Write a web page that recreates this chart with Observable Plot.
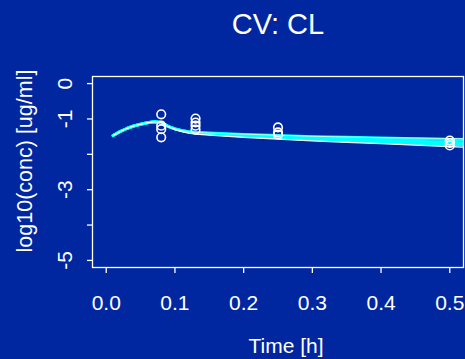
<!DOCTYPE html>
<html>
<head>
<meta charset="utf-8">
<script src="https://cdn.jsdelivr.net/npm/d3@7"></script>
<script src="https://cdn.jsdelivr.net/npm/@observablehq/plot@0.6"></script>
<style>
  html, body { margin: 0; padding: 0; background: #0027a0; }
  svg { display: block; }
</style>
</head>
<body>
<div id="chart"></div>
<script>
// ---- data ----
const titleText = "CV: CL";
const xLabel = "Time [h]";
const yLabel = "log10(conc) [ug/ml]";
const xTicks = [0, 0.1, 0.2, 0.3, 0.4, 0.5];
const xTickLabels = ["0.0", "0.1", "0.2", "0.3", "0.4", "0.5"];
const yTicks = [0, -1, -2, -3, -4, -5];
const yTickLabels = [0, -1, -3, -5];

const time = [0.01,0.02,0.03,0.04,0.05,0.06,0.07,0.08,0.09,0.10,0.11,0.12,0.13,0.15,0.20,0.25,0.30,0.35,0.40,0.45,0.50,0.52];
const cyanMid  = [-1.47,-1.36,-1.27,-1.20,-1.15,-1.11,-1.08,-1.10,-1.21,-1.28,-1.33,-1.36,-1.38,-1.41,-1.46,-1.50,-1.54,-1.57,-1.60,-1.63,-1.66,-1.67];
const cyanHigh = [-1.47,-1.36,-1.27,-1.20,-1.15,-1.11,-1.08,-1.10,-1.21,-1.28,-1.33,-1.36,-1.38,-1.40,-1.44,-1.47,-1.50,-1.52,-1.54,-1.56,-1.58,-1.59];
const cyanLow  = [-1.47,-1.36,-1.27,-1.20,-1.15,-1.11,-1.08,-1.10,-1.21,-1.28,-1.33,-1.37,-1.39,-1.42,-1.48,-1.53,-1.58,-1.62,-1.66,-1.69,-1.72,-1.73];
const whiteLow = [-1.47,-1.36,-1.27,-1.20,-1.15,-1.11,-1.08,-1.10,-1.22,-1.30,-1.36,-1.40,-1.43,-1.46,-1.52,-1.57,-1.62,-1.66,-1.70,-1.74,-1.78,-1.80];
const whiteHigh= [-1.47,-1.36,-1.27,-1.20,-1.15,-1.11,-1.08,-1.10,-1.21,-1.28,-1.33,-1.36,-1.38,-1.40,-1.43,-1.46,-1.49,-1.51,-1.53,-1.54,-1.55,-1.55];

const obsTime = [0.08,0.08,0.08,0.08, 0.13,0.13,0.13,0.13, 0.25,0.25,0.25, 0.50,0.50,0.50];
const obsConc = [-0.87,-1.19,-1.29,-1.52, -0.99,-1.10,-1.19,-1.30, -1.24,-1.38,-1.44, -1.61,-1.68,-1.75];

// ---- build tables ----
const toRows = (vals, s) => time.map((t, i) => ({time: t, conc: vals[i], series: s}));
const cyanRows = [...toRows(cyanHigh, "a"), ...toRows(cyanMid, "b"), ...toRows(cyanLow, "c")];
const whiteLowRows = toRows(whiteLow, "w1");
const whiteHighRows = toRows(whiteHigh, "w2");
const obs = obsTime.map((t, i) => ({time: t, conc: obsConc[i]}));

const font = "Liberation Sans, Arial, Helvetica, sans-serif";

const chart = Plot.plot({
  width: 465,
  height: 359,
  marginLeft: 92,
  marginRight: 2,
  marginTop: 76,
  marginBottom: 92,
  style: {background: "#0027a0", color: "white", fontFamily: font},
  x: {domain: [-0.02, 0.52]},
  y: {domain: [-5.2, 0.2]},
  marks: [
    Plot.axisX({ticks: xTicks, tickSize: 6, tickPadding: 22, tickFormat: (d, i) => xTickLabels[i], fontSize: 21, stroke: "white", strokeWidth: 1.3, label: null}),
    Plot.axisY({ticks: yTicks, tickSize: 5, tickFormat: () => "", stroke: "white", strokeWidth: 1.3, label: null}),
    Plot.text(yTickLabels, {y: d => d, text: d => String(d).replace("-", "-"), frameAnchor: "left", dx: -21, rotate: -90, textAnchor: "middle", lineAnchor: "bottom", fontSize: 21, fill: "white"}),
    Plot.line(cyanRows, {x: "time", y: "conc", z: "series", stroke: "#00ffff", strokeWidth: 3, clip: true}),
    Plot.line(whiteHighRows, {x: "time", y: "conc", stroke: "white", strokeWidth: 1, strokeOpacity: 0.7, clip: true}),
    Plot.line(whiteLowRows, {x: "time", y: "conc", stroke: "white", strokeWidth: 1.2, clip: true}),
    Plot.dot(obs, {x: "time", y: "conc", r: 4.3, stroke: "white", strokeWidth: 1.6, fill: "none"}),
    Plot.frame({stroke: "white", strokeWidth: 1.3}),
    Plot.text([titleText], {text: d => d, frameAnchor: "top", dy: -43, lineAnchor: "bottom", fontSize: 29, fill: "white"}),
    Plot.text([xLabel], {text: d => d, frameAnchor: "bottom", dx: 8, dy: 85, lineAnchor: "bottom", fontSize: 21, fill: "white"}),
    Plot.text([yLabel], {text: d => d, frameAnchor: "left", dx: -61, dy: -11, rotate: -90, textAnchor: "middle", lineAnchor: "bottom", fontSize: 21.5, fill: "white"})
  ]
});
document.getElementById("chart").appendChild(chart);
</script>
</body>
</html>
